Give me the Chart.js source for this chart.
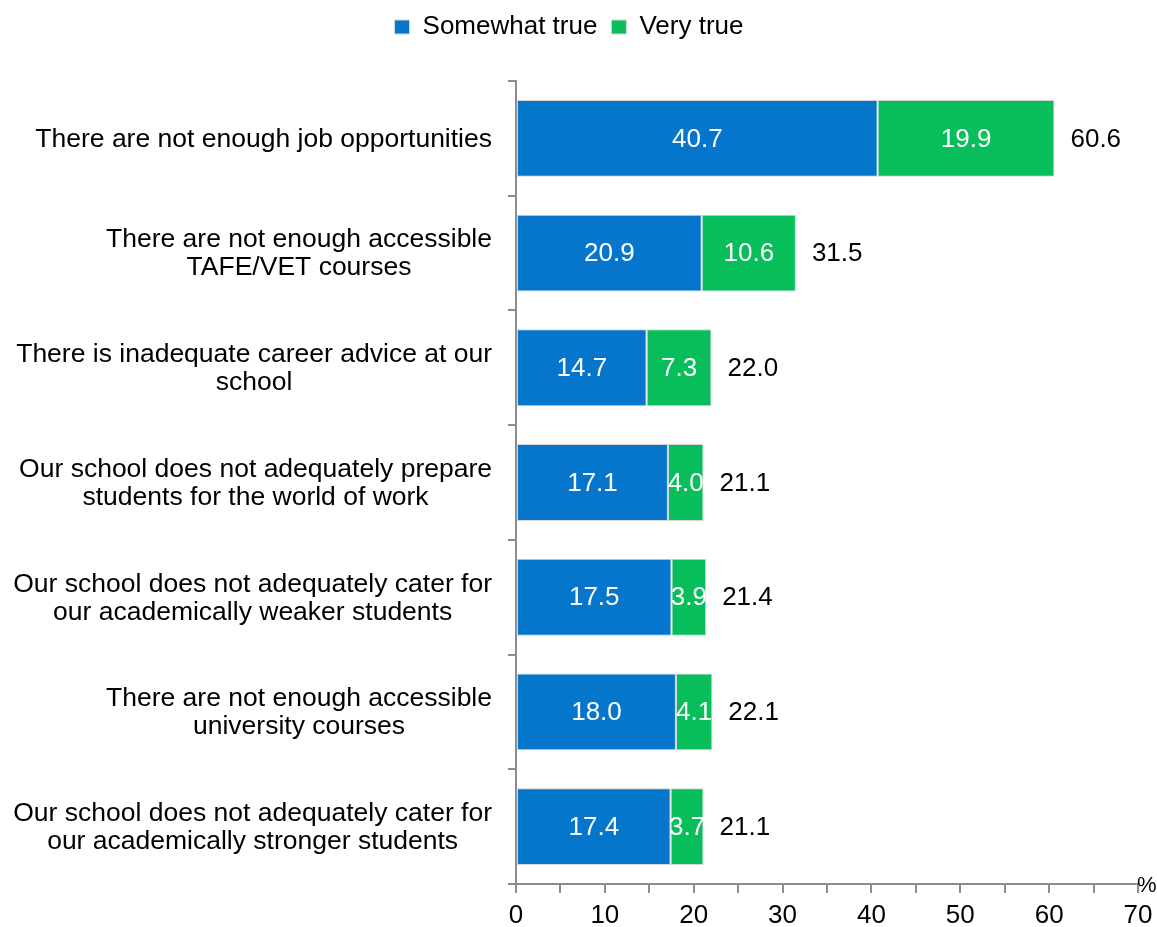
<!DOCTYPE html>
<html>
<head>
<meta charset="utf-8">
<script src="https://cdn.jsdelivr.net/npm/chart.js@4"></script>
<style>
html,body{margin:0;padding:0;background:#fff;}
#wrap{width:1157px;height:927px;}
</style>
</head>
<body>
<div id="wrap"><canvas id="c" width="1157" height="927"></canvas></div>
<script>
const categories = [
  "There are not enough job opportunities",
  ["There are not enough accessible", "TAFE/VET courses"],
  ["There is inadequate career advice at our", "school"],
  ["Our school does not adequately prepare", "students for the world of work"],
  ["Our school does not adequately cater for", "our academically weaker students"],
  ["There are not enough accessible", "university courses"],
  ["Our school does not adequately cater for", "our academically stronger students"]
];
const somewhatTrue = [40.7, 20.9, 14.7, 17.1, 17.5, 18.0, 17.4];
const veryTrue = [19.9, 10.6, 7.3, 4.0, 3.9, 4.1, 3.7];
const totals = [60.6, 31.5, 22.0, 21.1, 21.4, 22.1, 21.1];
const xTicks = [0, 10, 20, 30, 40, 50, 60, 70];

const FONT = "'Liberation Sans', Arial, sans-serif";
const BLUE = "rgb(6,118,205)";
const GREEN = "rgb(7,190,90)";
const AXIS = "#8c8c8c";

const labelPlugin = {
  id: 'valueLabels',
  afterDatasetsDraw(chart) {
    const ctx = chart.ctx;
    ctx.save();
    ctx.font = "26px " + FONT;
    ctx.textBaseline = 'middle';
    chart.data.datasets.forEach((ds, di) => {
      const meta = chart.getDatasetMeta(di);
      meta.data.forEach((bar, i) => {
        const left = Math.min(bar.x, bar.base);
        const right = Math.max(bar.x, bar.base);
        ctx.fillStyle = '#ffffff';
        ctx.textAlign = 'center';
        ctx.fillText(ds.data[i].toFixed(1), (left + right) / 2, bar.y + 1);
      });
    });
    const lastMeta = chart.getDatasetMeta(chart.data.datasets.length - 1);
    lastMeta.data.forEach((bar, i) => {
      ctx.fillStyle = '#000000';
      ctx.textAlign = 'left';
      ctx.fillText(totals[i].toFixed(1), Math.max(bar.x, bar.base) + 16, bar.y + 1);
    });
    // category labels: block right-aligned, lines centred within block
    const ys = chart.scales.y;
    ctx.font = "26.5px " + FONT;
    ctx.fillStyle = '#000';
    ctx.textAlign = 'center';
    ctx.textBaseline = 'middle';
    const lh = 28;
    const rightEdge = ys.right - 24;
    categories.forEach((lab, i) => {
      const lines = Array.isArray(lab) ? lab : [lab];
      const maxW = Math.max(...lines.map(l => ctx.measureText(l).width));
      const cx = rightEdge - maxW / 2;
      const cy = ys.getPixelForValue(i);
      lines.forEach((l, j) => {
        ctx.fillText(l, cx, cy + 1 + (j - (lines.length - 1) / 2) * lh);
      });
    });
    // percent unit label at end of x axis
    const xs = chart.scales.x;
    ctx.font = "22px " + FONT;
    ctx.textAlign = 'left';
    ctx.textBaseline = 'alphabetic';
    ctx.fillText('%', xs.right - 1, xs.top + 8);
    ctx.restore();
  }
};

const legendHeight = {
  id: 'legendHeight',
  beforeInit(chart) {
    const origFit = chart.legend.fit;
    chart.legend.fit = function () {
      origFit.bind(chart.legend)();
      this.height = 81;
    };
  }
};

new Chart(document.getElementById('c'), {
  type: 'bar',
  data: {
    labels: categories,
    datasets: [
      { label: 'Somewhat true', data: somewhatTrue, backgroundColor: BLUE, borderColor: '#d6d6d6', borderWidth: 1, borderSkipped: false },
      { label: 'Very true', data: veryTrue, backgroundColor: GREEN, borderColor: '#d6d6d6', borderWidth: 1, borderSkipped: false }
    ]
  },
  options: {
    indexAxis: 'y',
    responsive: false,
    animation: false,
    devicePixelRatio: 1,
    layout: { padding: { left: 0, right: 19, top: 0, bottom: 0 } },
    datasets: { bar: { categoryPercentage: 1.0, barPercentage: 0.67 } },
    plugins: {
      legend: {
        position: 'top',
        align: 'center',
        labels: {
          font: { family: FONT, size: 26 },
          color: '#000',
          boxWidth: 15,
          boxHeight: 14,
          padding: 14
        }
      },
      tooltip: { enabled: false }
    },
    scales: {
      x: {
        stacked: true,
        min: 0,
        max: 70,
        afterFit(scale) { scale.height = 43; scale.paddingLeft = 0; scale.paddingRight = 0; },
        afterBuildTicks(scale) {
          const t = [];
          for (let v = 0; v <= 70; v += 5) t.push({ value: v });
          scale.ticks = t;
        },
        ticks: {
          font: { family: FONT, size: 26 },
          color: '#000',
          padding: 7,
          maxRotation: 0,
          autoSkip: false,
          callback: (v) => (xTicks.includes(v) ? String(v) : '')
        },
        grid: { drawOnChartArea: false, drawTicks: true, tickLength: 9, color: AXIS, lineWidth: 2 },
        border: { color: AXIS, width: 2 }
      },
      y: {
        stacked: true,
        afterFit(scale) { scale.width = 516; },
        ticks: {
          autoSkip: false,
          callback: () => ''
        },
        grid: { offset: true, drawOnChartArea: false, drawTicks: true, tickLength: 8, color: AXIS, lineWidth: 2 },
        border: { color: AXIS, width: 2 }
      }
    }
  },
  plugins: [labelPlugin, legendHeight]
});
</script>
</body>
</html>
